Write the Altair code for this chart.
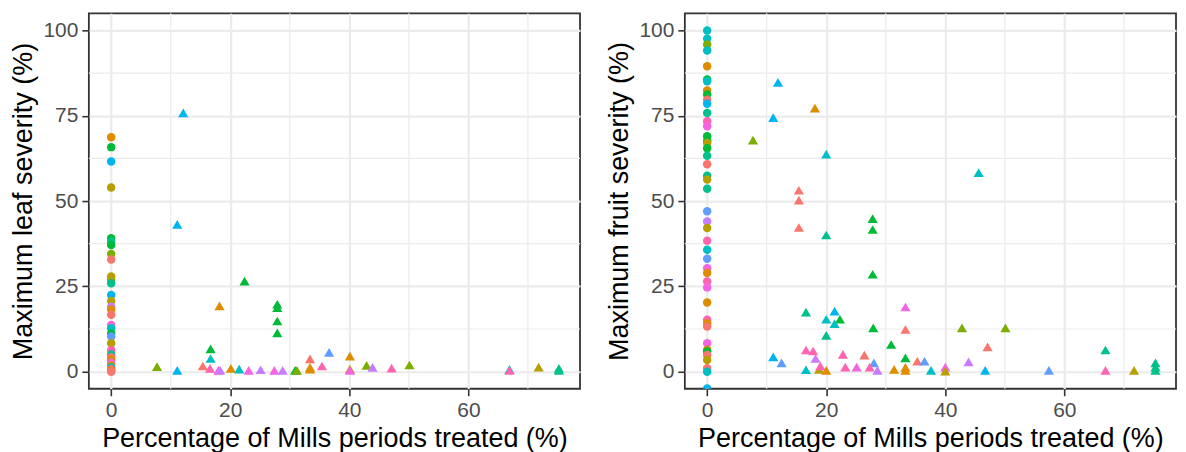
import altair as alt
import pandas as pd

# ggplot2 hue palette (12 levels)
palette = ["#F8766D", "#DE8C00", "#B79F00", "#7CAE00", "#00BA38", "#00C08B",
           "#00BFC4", "#00B4F0", "#619CFF", "#C77CFF", "#F564E3", "#FF64B0"]
groups = [f"G{i+1}" for i in range(12)]

# ---- Leaf panel ----
leaf_x = [0, 0, 0, 0, 0, 0, 0, 0, 0, 0, 0, 0, 0, 0, 0, 0, 0, 0, 0, 0, 0, 0, 0, 0, 0,
          0, 0, 0, 0, 0, 0, 0,
          12.1, 11.1, 22.4, 27.9, 27.9, 27.9, 27.9, 18.2, 16.7, 16.7, 7.7, 11.1,
          15.4, 16.6, 18.0, 18.3, 20.1, 21.5, 23.1, 25.1, 27.4, 28.8, 30.9, 31.2,
          33.4, 33.4, 33.4, 35.4, 36.6, 40.1, 40.1, 40.1, 42.9, 43.9, 47.1, 50.1,
          66.9, 66.9, 71.8, 75.2, 75.2]
leaf_y = [68.7, 65.8, 61.6, 54.0, 39.1, 38.1, 37.1, 34.5, 32.9, 27.9, 27.0, 25.9,
          22.5, 20.7, 19.0, 18.2, 16.7, 13.7, 12.7, 11.2, 10.3, 8.3, 6.3, 5.0,
          4.2, 3.5, 2.6, 1.8, 1.2, 0.7, 0.3, 0.0,
          75.7, 43.0, 26.4, 19.6, 18.6, 14.7, 11.2, 19.1, 6.5, 3.7, 1.3, 0.2,
          1.5, 0.8, 0.2, 0.3, 0.8, 0.6, 0.2, 0.4, 0.2, 0.2, 0.2, 0.2,
          0.6, 1.1, 3.6, 1.5, 5.5, 4.4, 0.6, 0.2, 1.7, 1.1, 0.9, 1.8,
          0.5, 0.2, 1.2, 0.8, 0.2]
leaf_g = [1, 4, 7, 2, 4, 5, 4, 3, 0, 2, 2, 5,
          7, 2, 9, 1, 0, 10, 6, 4, 8, 2, 11, 5,
          0, 1, 10, 1, 6, 0, 1, 0,
          7, 7, 4, 4, 4, 4, 4, 1, 4, 6, 3, 7,
          0, 11, 10, 9, 1, 6, 10, 9, 10, 9, 4, 3,
          1, 1, 0, 11, 8, 1, 2, 10, 3, 9, 11, 3,
          6, 11, 2, 5, 5]

# ---- Fruit panel ----
fruit_x = [0] * 45 + [
    11.9, 11.1, 7.7, 18.1, 20.0, 45.6, 15.4, 15.4, 15.4, 27.8, 27.8, 20.0, 27.8,
    33.3, 16.6, 21.4, 20.0, 22.3, 21.4, 27.9, 33.3, 42.8, 50.1, 20.0, 30.9,
    47.1, 66.9, 11.1, 12.5, 16.6, 17.8, 18.2, 22.8, 26.4, 33.3, 35.3, 36.5,
    28.0, 43.9, 57.4, 16.6, 18.8, 19.0, 20.0, 23.2, 25.1, 27.3, 28.6, 31.4,
    33.3, 33.3, 37.6, 40.0, 40.0, 46.7, 66.9, 71.7, 75.3, 75.3, 75.3]
fruit_y = [100.0, 97.6, 95.9, 94.1, 89.5, 85.6, 85.1, 82.4, 81.2, 79.7, 78.5,
           75.8, 73.4, 71.9, 69.0, 67.5, 67.0, 65.5, 63.3, 60.8, 57.4, 56.3,
           53.6, 47.0, 44.0, 42.1, 38.4, 35.7, 33.1, 30.3, 28.9, 26.4, 24.7,
           20.3, 15.2, 14.2, 13.2, 8.3, 6.4, 5.9, 4.9, 3.4, 1.0, 0.0, -4.9,
           84.6, 74.3, 67.7, 77.1, 63.6, 58.2, 53.0, 50.1, 42.1, 44.7, 41.5, 39.9, 28.4,
           18.8, 17.3, 17.6, 15.2, 15.2, 13.9, 12.7, 12.2, 12.7, 12.7, 10.5, 7.8,
           7.1, 6.2, 4.2, 2.4, 6.2, 5.9, 3.7, 4.9, 4.7, 3.9, 2.9, 2.9,
           2.4, 2.7, 0.2, 0.4, 0.5, 1.5, 0.2, 1.2, 1.2, 1.2, 0.2, 0.5,
           1.1, 0.2, 0.2, 1.2, 0.0, 0.2, 0.2, 0.2, 2.4, 1.2, 0.2]
fruit_g = [6, 6, 3, 6, 1, 4, 6, 1, 4, 0, 7,
           5, 11, 10, 4, 4, 2, 4, 5, 0, 5, 2,
           5, 8, 9, 2, 11, 6, 8, 10, 1, 11, 10,
           1, 11, 1, 0, 10, 1, 4, 0, 2, 0, 6, 7,
           7, 7, 3, 1, 6, 6, 0, 0, 0, 4, 4, 5, 4,
           10, 5, 7, 6, 4, 6, 4, 0, 3, 3, 5, 4,
           0, 5, 7, 8, 11, 11, 9, 11, 0, 4, 0, 8,
           8, 9, 8, 6, 2, 11, 1, 11, 10, 11, 9, 1,
           1, 1, 6, 10, 2, 7, 11, 2, 5, 5, 5]

x_major = [0, 20, 40, 60]
x_minor = [10, 30, 50, 70]
y_major = [0, 25, 50, 75, 100]
y_minor = [12.5, 37.5, 62.5, 87.5]

X_DOMAIN = [-3.75, 78.75]
Y_DOMAIN = [-5, 105]
W, H = 492, 376
FONT = "Liberation Sans"
TRIANGLE = "M-1.2,0.9L1.2,0.9L0,-1.15Z"


def make_df(xs, ys, gs):
    return pd.DataFrame({
        "x": xs, "y": ys,
        "group": [groups[g] for g in gs],
        "treated": ["untreated" if v == 0 else "treated" for v in xs],
    })


def panel(xs, ys, gs, ytitle):
    df = make_df(xs, ys, gs)
    xscale = alt.Scale(domain=X_DOMAIN, nice=False, zero=False)
    yscale = alt.Scale(domain=Y_DOMAIN, nice=False, zero=False)

    vminor = alt.Chart(pd.DataFrame({"v": x_minor})).mark_rule(
        color="#EBEBEB", strokeWidth=1.2
    ).encode(x=alt.X("v:Q", scale=xscale))
    hminor = alt.Chart(pd.DataFrame({"v": y_minor})).mark_rule(
        color="#EBEBEB", strokeWidth=1.2
    ).encode(y=alt.Y("v:Q", scale=yscale))

    pts = alt.Chart(df).mark_point(filled=True, opacity=1, size=72, clip=True).encode(
        x=alt.X("x:Q", scale=xscale,
                axis=alt.Axis(title="Percentage of Mills periods treated (%)",
                              values=x_major, format="d")),
        y=alt.Y("y:Q", scale=yscale,
                axis=alt.Axis(title=ytitle, values=y_major, format="d")),
        color=alt.Color("group:N", scale=alt.Scale(domain=groups, range=palette),
                        legend=None),
        shape=alt.Shape("treated:N",
                        scale=alt.Scale(domain=["untreated", "treated"],
                                        range=["circle", TRIANGLE]),
                        legend=None),
    )
    return alt.layer(vminor, hminor, pts).properties(width=W, height=H)


left = panel(leaf_x, leaf_y, leaf_g, "Maximum leaf severity (%)")
right = panel(fruit_x, fruit_y, fruit_g, "Maximum fruit severity (%)")

chart = alt.hconcat(left, right, spacing=23).properties(
    padding={"top": 3, "left": 1, "right": 0, "bottom": 0}
).configure_view(
    stroke="#333333", strokeWidth=1.8
).configure_axis(
    domain=False, grid=True, gridColor="#EBEBEB", gridWidth=2.2,
    ticks=True, tickColor="#333333", tickWidth=1.6, tickSize=7,
    labelColor="#4D4D4D", labelFontSize=21, labelFont=FONT, labelPadding=4,
    titleColor="#000000", titleFontSize=27, titleFont=FONT,
    titleFontWeight="normal", titlePadding=5,
)

chart.save("out.html", embed_options={"renderer": "svg", "actions": False})
